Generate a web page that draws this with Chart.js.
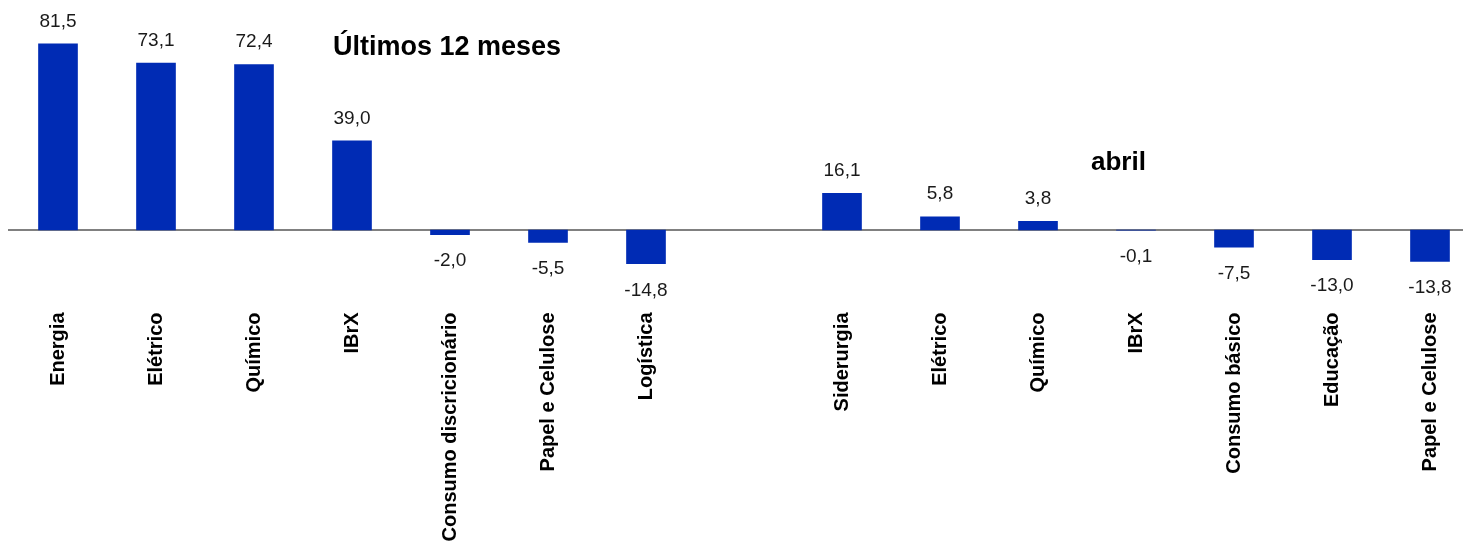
<!DOCTYPE html>
<html lang="pt-BR">
<head>
<meta charset="utf-8">
<title>Setores - retorno</title>
<script src="https://cdn.jsdelivr.net/npm/chart.js@4.4.1/dist/chart.umd.min.js"></script>
<style>
  html, body { margin: 0; padding: 0; background: #ffffff; }
  #wrap { width: 1463px; height: 541px; position: relative; }
</style>
</head>
<body>
<div id="wrap"><canvas id="sectorBars"></canvas></div>
<script>
// Setores: bloco "Últimos 12 meses" e bloco "abril", separados por uma coluna vazia
const sectors = [
    'Energia', 'Elétrico', 'Químico', 'IBrX', 'Consumo discricionário', 'Papel e Celulose', 'Logística',
    '',
    'Siderurgia', 'Elétrico', 'Químico', 'IBrX', 'Consumo básico', 'Educação', 'Papel e Celulose'
];
const returns = [
    81.5, 73.1, 72.4, 39.0, -2.0, -5.5, -14.8,
    null,
    16.1, 5.8, 3.8, -0.1, -7.5, -13.0, -13.8
];
const groupTitles = ['Últimos 12 meses', 'abril'];

const BAR_BLUE = '#002bb4';

function fmt(v) {
    return v.toFixed(1).replace('.', ',');
}

// linha do zero atravessando a largura toda
const zeroLine = {
    id: 'zeroLine',
    beforeDatasetsDraw(chart) {
        const y = Math.round(chart.scales.y.getPixelForValue(0));
        const ctx = chart.ctx;
        ctx.save();
        ctx.strokeStyle = '#808080';
        ctx.lineWidth = 2;
        ctx.beginPath();
        ctx.moveTo(8, y);
        ctx.lineTo(chart.width, y);
        ctx.stroke();
        ctx.restore();
    }
};

// rótulos de valor acima/abaixo das barras + títulos dos blocos
const barLabels = {
    id: 'barLabels',
    afterDatasetsDraw(chart) {
        const ctx = chart.ctx;
        const meta = chart.getDatasetMeta(0);
        ctx.save();
        ctx.font = '19px "Liberation Sans", Arial, sans-serif';
        ctx.fillStyle = '#1a1a1a';
        ctx.textAlign = 'center';
        meta.data.forEach(function(bar, i) {
            const v = returns[i];
            if (v === null) return;
            if (v >= 0) {
                ctx.textBaseline = 'bottom';
                ctx.fillText(fmt(v), bar.x, bar.y - 13);
            } else {
                ctx.textBaseline = 'top';
                ctx.fillText(fmt(v), bar.x, bar.y + 17);
            }
        });

        ctx.fillStyle = '#000000';
        ctx.textAlign = 'left';
        ctx.textBaseline = 'alphabetic';
        ctx.font = 'bold 27px "Liberation Sans", Arial, sans-serif';
        ctx.fillText(groupTitles[0], 333, 55);
        ctx.font = 'bold 26px "Liberation Sans", Arial, sans-serif';
        ctx.fillText(groupTitles[1], 1091, 170);
        ctx.restore();
    }
};

const ctx = document.getElementById('sectorBars').getContext('2d');

new Chart(ctx, {
    type: 'bar',
    data: {
        labels: sectors,
        datasets: [{
            data: returns,
            backgroundColor: BAR_BLUE,
            borderWidth: 0,
            barThickness: 39,
            clip: false
        }]
    },
    options: {
        responsive: true,
        maintainAspectRatio: false,
        animation: false,
        layout: {
            padding: { left: 58, right: 33, top: 13, bottom: 0 }
        },
        plugins: {
            legend: { display: false },
            tooltip: { enabled: false }
        },
        scales: {
            x: {
                offset: false,
                grid: { display: false, drawTicks: false },
                border: { display: false },
                ticks: {
                    autoSkip: false,
                    minRotation: 90,
                    maxRotation: 90,
                    padding: 14,
                    color: '#000000',
                    font: { family: '"Liberation Sans", Arial, sans-serif', size: 20, weight: 'bold' }
                },
                afterFit(scale) {
                    scale.height = 242.5;
                    // os rótulos giram 90°, não precisam de folga lateral
                    scale.paddingLeft = 0;
                    scale.paddingRight = 0;
                }
            },
            y: {
                display: false,
                min: -30,
                max: 95
            }
        }
    },
    plugins: [zeroLine, barLabels]
});
</script>
</body>
</html>
